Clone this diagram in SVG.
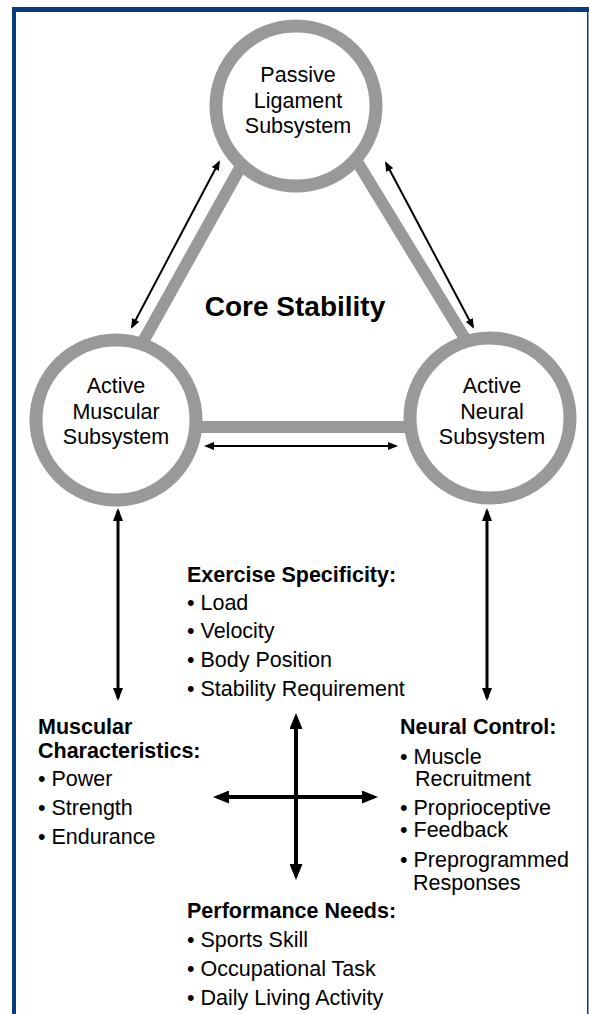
<svg xmlns="http://www.w3.org/2000/svg" width="589" height="1014" viewBox="0 0 589 1014">
<style>
text{font-family:"Liberation Sans",Arial,Helvetica,sans-serif;fill:#000;font-size:21.5px}
.b{font-weight:bold}
.c{text-anchor:middle}
.ring{fill:#fff;stroke:#999;stroke-width:13}
.bar{stroke:#999;stroke-width:12;fill:none}
.a1{stroke:#000;stroke-width:2;fill:none;marker-start:url(#h1);marker-end:url(#h1)}
.a2{stroke:#000;stroke-width:3;fill:none;marker-start:url(#h2);marker-end:url(#h2)}
.a3{stroke:#000;stroke-width:4;fill:none;marker-start:url(#h3);marker-end:url(#h3)}
</style>
<defs>
<marker id="h1" markerUnits="userSpaceOnUse" markerWidth="10" markerHeight="8" viewBox="0 0 10 8" refX="8" refY="4" orient="auto-start-reverse"><path d="M0,0 L10,4 L0,8 z" fill="#000"/></marker>
<marker id="h2" markerUnits="userSpaceOnUse" markerWidth="13" markerHeight="10" viewBox="0 0 13 10" refX="10" refY="5" orient="auto-start-reverse"><path d="M0,0 L13,5 L0,10 z" fill="#000"/></marker>
<marker id="h3" markerUnits="userSpaceOnUse" markerWidth="16" markerHeight="13" viewBox="0 0 16 13" refX="12" refY="6.5" orient="auto-start-reverse"><path d="M0,0 L16,6.5 L0,13 z" fill="#000"/></marker>
</defs>
<g id="frame" fill="#073f7e">
<rect x="12" y="7" width="4" height="1007"/>
<rect x="12" y="7" width="577" height="5"/>
<rect x="587" y="7" width="1.5" height="1007"/>
</g>
<g id="links">
<line class="bar" x1="250" y1="150" x2="130" y2="365"/>
<line class="bar" x1="350" y1="150" x2="478" y2="360"/>
<line class="bar" x1="180" y1="427" x2="430" y2="427"/>
</g>
<g id="passive"><circle class="ring" cx="296" cy="106" r="80"/>
<text class="c" x="298" y="82">Passive</text><text class="c" x="298" y="108">Ligament</text><text class="c" x="298" y="133">Subsystem</text></g>
<g id="muscular"><circle class="ring" cx="116" cy="420" r="80"/>
<text class="c" x="116" y="393">Active</text><text class="c" x="116" y="419">Muscular</text><text class="c" x="116" y="444">Subsystem</text></g>
<g id="neural"><circle class="ring" cx="490" cy="418" r="80"/>
<text class="c" x="492" y="393">Active</text><text class="c" x="492" y="419">Neural</text><text class="c" x="492" y="444">Subsystem</text></g>
<g id="core"><text class="b c" x="295" y="316" style="font-size:28px">Core Stability</text></g>
<g id="connectors">
<line class="a1" x1="219" y1="162" x2="132" y2="327"/>
<line class="a1" x1="386" y1="163" x2="473" y2="327"/>
<line class="a1" x1="206" y1="446" x2="396" y2="446"/>
<line class="a2" x1="118" y1="511" x2="118" y2="698"/>
<line class="a2" x1="487" y1="511" x2="487" y2="698"/>
<line class="a3" x1="296" y1="717" x2="296" y2="876"/>
<line class="a3" x1="217" y1="797" x2="374" y2="797"/>
</g>
<g id="exercise">
<text class="b" x="187" y="582">Exercise Specificity:</text>
<text x="187" y="610">• Load</text>
<text x="187" y="638">• Velocity</text>
<text x="187" y="667">• Body Position</text>
<text x="187" y="696">• Stability Requirement</text>
</g>
<g id="musc-char">
<text class="b" x="38" y="734">Muscular</text>
<text class="b" x="38" y="758">Characteristics:</text>
<text x="38" y="786">• Power</text>
<text x="38" y="815">• Strength</text>
<text x="38" y="844">• Endurance</text>
</g>
<g id="neural-control">
<text class="b" x="400" y="734">Neural Control:</text>
<text x="400" y="764">• Muscle</text>
<text x="415" y="786">Recruitment</text>
<text x="400" y="815">• Proprioceptive</text>
<text x="400" y="837">• Feedback</text>
<text x="400" y="867">• Preprogrammed</text>
<text x="413" y="890">Responses</text>
</g>
<g id="performance">
<text class="b" x="187" y="918">Performance Needs:</text>
<text x="187" y="947">• Sports Skill</text>
<text x="187" y="976">• Occupational Task</text>
<text x="187" y="1005">• Daily Living Activity</text>
</g>
</svg>
